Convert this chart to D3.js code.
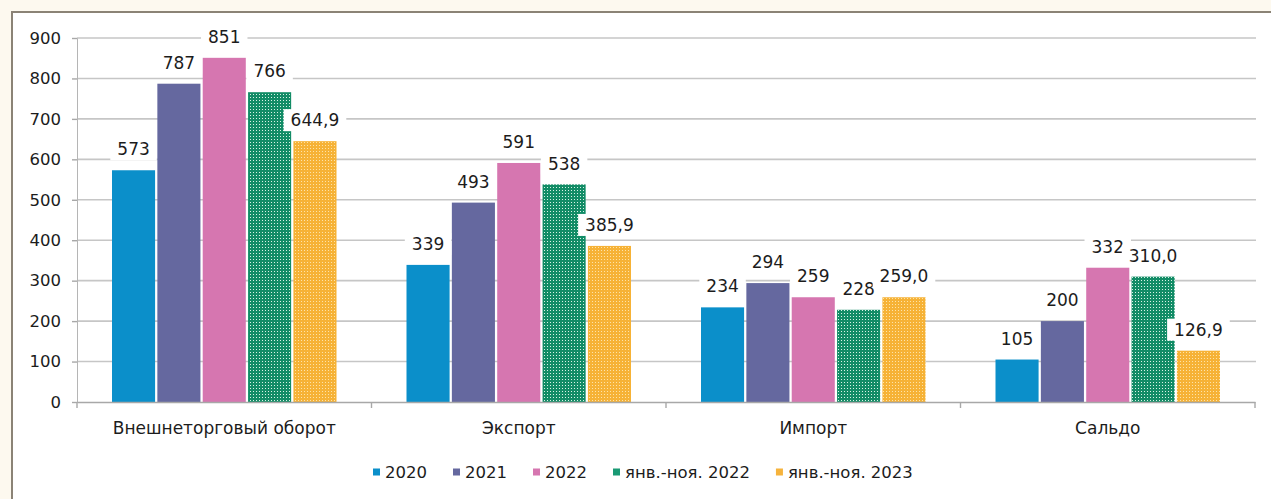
<!DOCTYPE html>
<html><head><meta charset="utf-8">
<script src="https://cdn.jsdelivr.net/npm/d3@7/dist/d3.min.js"></script>
<style>body{margin:0;background:#fdf9ef;} svg{display:block}</style>
</head><body><svg id="c" width="1271" height="499"></svg>
<script>
const categories = ["Внешнеторговый оборот", "Экспорт", "Импорт", "Сальдо"];
const seriesNames = ["2020", "2021", "2022", "янв.-ноя. 2022", "янв.-ноя. 2023"];
const v2020 = [573, 339, 234, 105];
const v2021 = [787, 493, 294, 200];
const v2022 = [851, 591, 259, 332];
const vJanNov2022 = [766, 538, 228, 310.0];
const vJanNov2023 = [644.9, 385.9, 259.0, 126.9];
const l2020 = ["573", "339", "234", "105"];
const l2021 = ["787", "493", "294", "200"];
const l2022 = ["851", "591", "259", "332"];
const lJanNov2022 = ["766", "538", "228", "310,0"];
const lJanNov2023 = ["644,9", "385,9", "259,0", "126,9"];
const yTicks = [0, 100, 200, 300, 400, 500, 600, 700, 800, 900];

const seriesValues = [v2020, v2021, v2022, vJanNov2022, vJanNov2023];
const seriesLabels = [l2020, l2021, l2022, lJanNov2022, lJanNov2023];
const fills = ["#0b8fca", "#65689f", "#d676b0", "url(#pGreen)", "url(#pOrange)"];
const legendFills = ["#0b8fca", "#65689f", "#d676b0", "#1a9a74", "#f6b33c"];

const svg = d3.select("#c");
const W = 1271, H = 499;
const FONT = "DejaVu Sans, Verdana, sans-serif";
const TXT = "#1c1c1c";

// background & frame
svg.append("rect").attr("x", 0).attr("y", 0).attr("width", W).attr("height", H).attr("fill", "#fdf9ef");
svg.append("rect").attr("x", 12).attr("y", 12).attr("width", W - 12).attr("height", H - 12).attr("fill", "#ffffff");
svg.append("path").attr("d", `M12,${H} L12,12 L${W},12`).attr("fill", "none").attr("stroke", "#8b8376").attr("stroke-width", 2);

// patterns
const defs = svg.append("defs");
const pg = defs.append("pattern").attr("id", "pGreen").attr("patternUnits", "userSpaceOnUse").attr("width", 3).attr("height", 3);
pg.append("rect").attr("width", 3).attr("height", 3).attr("fill", "#128c66");
pg.append("rect").attr("x", 1).attr("y", 1).attr("width", 1).attr("height", 1).attr("fill", "#d9f2e6");
const po = defs.append("pattern").attr("id", "pOrange").attr("patternUnits", "userSpaceOnUse").attr("width", 3).attr("height", 3);
po.append("rect").attr("width", 3).attr("height", 3).attr("fill", "#f6b236");
po.append("rect").attr("x", 1).attr("y", 1).attr("width", 1).attr("height", 1).attr("fill", "#fde3a8");

const x0 = d3.scaleBand().domain(categories).range([77, 1255]).padding(0);
const x1 = d3.scaleBand().domain(seriesNames).range([35, x0.bandwidth() - 35]).paddingInner(0.05).paddingOuter(0);
const y = d3.scaleLinear().domain([0, 900]).range([402, 38]);

// gridlines
svg.append("g").selectAll("line").data(yTicks.filter(t => t > 0)).join("line")
  .attr("x1", 77).attr("x2", 1256).attr("y1", d => y(d)).attr("y2", d => y(d))
  .attr("stroke", "#c6c6c6").attr("stroke-width", 1.6);

// y axis
const yAxis = d3.axisLeft(y).tickValues(yTicks).tickSize(5).tickPadding(11).tickFormat(d3.format("d"));
const gy = svg.append("g").attr("transform", "translate(77,0)").call(yAxis);
gy.select(".domain").attr("stroke", "#b5b5b5").attr("stroke-width", 1);
gy.selectAll(".tick line").attr("stroke", "#a8a8a8").attr("stroke-width", 1.4);
gy.selectAll(".tick text").attr("font-family", FONT).attr("font-size", 16.5).attr("fill", TXT);

// bars
const gBars = svg.append("g");
categories.forEach((c, ci) => {
  seriesNames.forEach((s, si) => {
    gBars.append("rect")
      .attr("x", x0(c) + x1(s))
      .attr("y", y(seriesValues[si][ci]))
      .attr("width", x1.bandwidth())
      .attr("height", y(0) - y(seriesValues[si][ci]))
      .attr("fill", fills[si]);
  });
});

// x axis
const xAxis = d3.axisBottom(x0).tickSize(0).tickPadding(20);
const gx = svg.append("g").attr("transform", "translate(0,402)").call(xAxis);
gx.select(".domain").attr("stroke", "#a8a8a8").attr("stroke-width", 1.4);
gx.selectAll(".tick text").attr("font-family", FONT).attr("font-size", 17).attr("fill", TXT);
const bounds = categories.map(c => x0(c)).concat([x0.range()[1]]);
gx.selectAll(".sep").data(bounds).join("line").attr("class", "sep")
  .attr("x1", d => d).attr("x2", d => d).attr("y1", 0).attr("y2", 6)
  .attr("stroke", "#a8a8a8").attr("stroke-width", 1.4);

// data labels
const gLab = svg.append("g");
seriesNames.forEach((s, si) => {
  categories.forEach((c, ci) => {
    const cx = x0(c) + x1(s) + x1.bandwidth() / 2;
    const cy = y(seriesValues[si][ci]) - 21;
    const g = gLab.append("g");
    const bg = g.append("rect").attr("fill", "#ffffff");
    const t = g.append("text").attr("x", cx).attr("y", cy).attr("dy", "0.36em")
      .attr("text-anchor", "middle").attr("font-family", FONT).attr("font-size", 17)
      .attr("fill", TXT).text(seriesLabels[si][ci]);
    const w = t.node().getComputedTextLength();
    bg.attr("x", cx - w / 2 - 7).attr("y", cy - 11).attr("width", w + 14).attr("height", 22);
  });
});

// legend
const gLeg = svg.append("g");
let lx = 373;
const ly = 472;
seriesNames.forEach((s, si) => {
  gLeg.append("rect").attr("x", lx).attr("y", ly - 3.5).attr("width", 7).attr("height", 7).attr("fill", legendFills[si]);
  const t = gLeg.append("text").attr("x", lx + 12).attr("y", ly).attr("dy", "0.36em")
    .attr("font-family", FONT).attr("font-size", 16.5).attr("fill", TXT).text(s);
  lx += 12 + t.node().getComputedTextLength() + 26;
});
</script></body></html>
